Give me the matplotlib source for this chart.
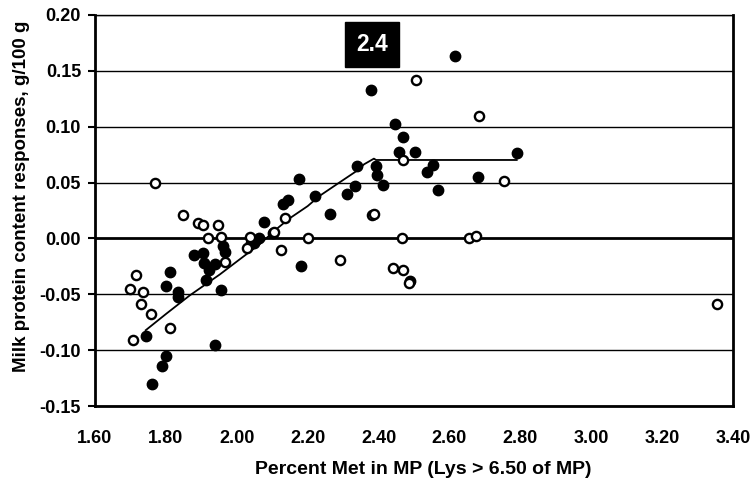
import matplotlib
matplotlib.use("Agg")
import matplotlib.pyplot as plt

plt.rcParams["font.family"] = ["Liberation Sans", "DejaVu Sans"]
plt.rcParams["font.weight"] = "bold"

# filled points (Met %, response)
filled_x = [1.743, 1.811, 1.800, 1.835, 1.835, 1.800, 1.788, 1.762, 1.940, 1.879,
            1.906, 1.909, 1.921, 1.914, 1.940, 1.961, 1.966, 1.956, 2.050, 2.062,
            2.041, 2.078, 2.101, 2.130, 2.144, 2.181, 2.177, 2.221, 2.263, 2.311,
            2.334, 2.339, 2.392, 2.395, 2.413, 2.458, 2.503, 2.537, 2.553, 2.567,
            2.680, 2.792, 2.615, 2.469, 2.378, 2.446, 2.490]
filled_y = [-0.087, -0.030, -0.043, -0.048, -0.052, -0.105, -0.114, -0.130, -0.095, -0.015,
            -0.0135, -0.022, -0.028, -0.037, -0.023, -0.007, -0.012, -0.046, -0.004, 0.000,
            -0.004, 0.015, 0.005, 0.0305, 0.034, -0.025, 0.053, 0.038, 0.022, 0.040,
            0.047, 0.065, 0.065, 0.057, 0.048, 0.077, 0.077, 0.059, 0.066, 0.043,
            0.055, 0.076, 0.163, 0.091, 0.133, 0.102, -0.038]

# open points
open_x = [1.715, 1.700, 1.736, 1.731, 1.757, 1.708, 1.811, 1.918, 1.847, 1.890,
          1.906, 1.947, 1.956, 1.966, 2.036, 2.028, 2.106, 2.125, 2.137, 2.200,
          2.383, 2.388, 2.290, 2.442, 2.470, 2.486, 2.465, 2.469, 2.505, 2.683,
          2.753, 2.655, 2.675, 3.356, 1.769]
open_y = [-0.033, -0.045, -0.048, -0.0585, -0.068, -0.0905, -0.080, 0.000, 0.0206, 0.0137,
          0.012, 0.012, 0.0015, -0.021, 0.001, -0.009, 0.006, -0.0105, 0.0185, 0.000,
          0.021, 0.022, -0.019, -0.0266, -0.0284, -0.040, 0.000, 0.070, 0.1416, 0.110,
          0.051, 0.000, 0.002, -0.059, 0.050]

# fitted broken-line
fit_x = [1.743, 1.802, 1.867, 1.952, 2.008, 2.064, 2.111, 2.148, 2.200, 2.233,
         2.289, 2.345, 2.359, 2.387, 2.393, 2.790]
fit_y = [-0.0822, -0.0672, -0.0511, -0.0323, -0.0188, -0.0054, 0.0081, 0.0177, 0.0289, 0.0379,
         0.0499, 0.0618, 0.0663, 0.0714, 0.0702, 0.0702]

yticks = [-0.15, -0.10, -0.05, 0.00, 0.05, 0.10, 0.15, 0.20]
xticks = [1.60, 1.80, 2.00, 2.20, 2.40, 2.60, 2.80, 3.00, 3.20, 3.40]

fig = plt.figure(figsize=(7.55, 4.87), dpi=100)
ax = fig.add_axes([0.1258, 0.1663, 0.845, 0.803])

for v in yticks:
    ax.axhline(v, color="black", lw=2.0 if v == 0 else 1.0, zorder=1)

ax.plot(fit_x, fit_y, color="black", lw=1.3, zorder=2)
ax.scatter(filled_x, filled_y, s=56, color="black", zorder=3)
ax.scatter(open_x, open_y, s=44, facecolor="white", edgecolor="black", linewidth=1.7, zorder=4)

ax.text(2.382, 0.174, "2.4", color="white", fontsize=16.5, fontweight="bold",
        ha="center", va="center",
        bbox=dict(boxstyle="square,pad=0.48", facecolor="black", edgecolor="black"))

ax.set_xlim(1.60, 3.40)
ax.set_ylim(-0.15, 0.20)
ax.set_xticks(xticks)
ax.set_xticklabels([f"{v:.2f}" for v in xticks])
ax.set_yticks(yticks)
ax.set_yticklabels([f"{v:.2f}" for v in yticks])
ax.tick_params(axis="x", length=0, pad=17, labelsize=13)
ax.tick_params(axis="y", length=5, width=1.5, direction="out", pad=5, labelsize=13)

for side in ["left", "right", "bottom"]:
    ax.spines[side].set_linewidth(2)
ax.spines["top"].set_linewidth(1)

ax.set_xlabel("Percent Met in MP (Lys > 6.50 of MP)", fontsize=14, fontweight="bold")
ax.set_ylabel("Milk protein content responses, g/100 g", fontsize=13.5, fontweight="bold")
ax.xaxis.set_label_coords(0.515, -0.141)
ax.yaxis.set_label_coords(-0.102, 0.535)

fig.savefig("out.png", dpi=100)
